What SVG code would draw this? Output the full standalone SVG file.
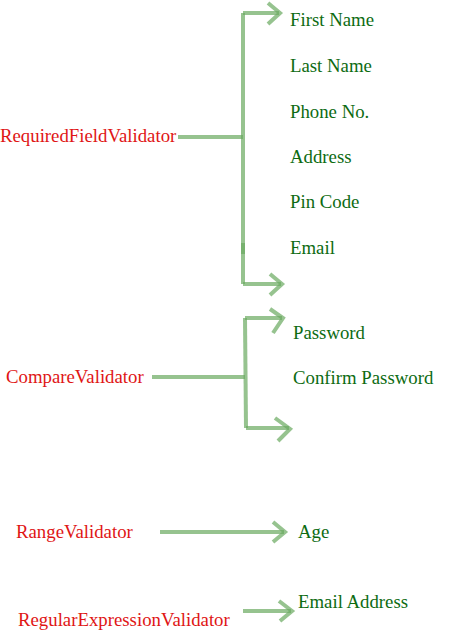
<svg xmlns="http://www.w3.org/2000/svg" width="450" height="636" viewBox="0 0 450 636">
<style>
.v{font-family:"Liberation Serif","Times New Roman",serif;font-size:18.8px;fill:#e01515}
.f{font-family:"Liberation Serif","Times New Roman",serif;font-size:18.8px;fill:#0d6b12}
.c{fill:none;stroke:#6aa95f;stroke-opacity:0.7;stroke-width:4;stroke-linecap:butt;stroke-linejoin:miter}
</style>
<rect width="450" height="636" fill="#ffffff"/>
<g id="connectors">
<path class="c" d="M178,137 H243"/>
<path class="c" d="M243,13 V284"/>
<path class="c" d="M243,13 H279"/>
<path class="c" d="M268,3 L280,13 L268,24"/>
<path class="c" d="M243,284 H281"/>
<path class="c" d="M270,274 L282,284 L270,295"/>
<path class="c" d="M243,243 V254"/>
<path class="c" d="M152,377 H245"/>
<path class="c" d="M245,318 L246,428"/>
<path class="c" d="M245,318 H282"/>
<path class="c" d="M270,309 L283,318 L273,333"/>
<path class="c" d="M246,428 H289"/>
<path class="c" d="M275,418 L290,429 L278,441"/>
<path class="c" d="M160,532 H284"/>
<path class="c" d="M273,522 L285,532 L273,542"/>
<path class="c" d="M243,611 H291"/>
<path class="c" d="M279,601 L292,611 L280,621"/>
</g>
<g id="required"><text class="v" x="0" y="142">RequiredFieldValidator</text></g>
<g id="first-name"><text class="f" x="290" y="26">First Name</text></g>
<g id="last-name"><text class="f" x="290" y="72">Last Name</text></g>
<g id="phone"><text class="f" x="290" y="118">Phone No.</text></g>
<g id="address"><text class="f" x="290" y="163">Address</text></g>
<g id="pin"><text class="f" x="290" y="208">Pin Code</text></g>
<g id="email"><text class="f" x="290" y="254">Email</text></g>
<g id="compare"><text class="v" x="6" y="383">CompareValidator</text></g>
<g id="password"><text class="f" x="293" y="339">Password</text></g>
<g id="confirm"><text class="f" x="293" y="384">Confirm Password</text></g>
<g id="range"><text class="v" x="16" y="538">RangeValidator</text></g>
<g id="age"><text class="f" x="298" y="538">Age</text></g>
<g id="regex"><text class="v" x="18" y="626">RegularExpressionValidator</text></g>
<g id="email-address"><text class="f" x="298" y="608">Email Address</text></g>
</svg>
